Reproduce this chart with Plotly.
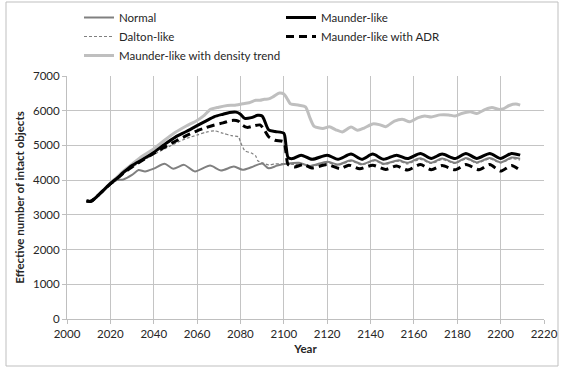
import plotly.graph_objects as go

# ---- data ----
normal_years = [2009, 2011, 2013, 2015, 2017, 2020, 2023, 2026, 2030, 2033, 2036, 2040, 2045, 2049, 2054, 2059, 2066,
                2071, 2077, 2081, 2085, 2090, 2093, 2097, 2102, 2107, 2112, 2120, 2125, 2131, 2136, 2142, 2146,
                2153, 2157, 2163, 2168, 2173, 2179, 2184, 2189, 2195, 2200, 2205, 2209]
normal_vals = [3400, 3390, 3480, 3600, 3720, 3880, 4000, 4020, 4150, 4290, 4250, 4330, 4470, 4330, 4440, 4250, 4420,
               4280, 4390, 4300, 4370, 4480, 4340, 4420, 4480, 4500, 4410, 4530, 4450, 4570, 4460, 4580, 4470,
               4570, 4500, 4630, 4500, 4620, 4500, 4640, 4510, 4640, 4510, 4650, 4620]

maunder_years = [2009, 2011, 2013, 2015, 2017, 2020, 2023, 2026, 2030, 2035, 2040, 2045, 2050, 2055, 2060, 2064,
                 2068, 2072, 2075, 2078, 2080, 2082, 2085, 2088, 2090, 2091, 2093, 2096, 2100, 2101, 2102, 2104,
                 2108, 2113, 2120, 2125, 2131, 2136, 2141, 2146, 2152, 2157, 2163, 2168, 2173, 2179, 2184, 2189,
                 2195, 2200, 2205, 2209]
maunder_vals = [3400, 3390, 3480, 3600, 3720, 3900, 4050, 4220, 4420, 4600, 4800, 5030, 5240, 5400, 5570, 5700,
                5830, 5900, 5950, 5960, 5900, 5780, 5800, 5870, 5850, 5730, 5450, 5400, 5350, 5000, 4650, 4620,
                4720, 4600, 4720, 4600, 4750, 4600, 4750, 4600, 4720, 4620, 4770, 4625, 4750, 4625, 4770, 4625,
                4770, 4625, 4770, 4720]

dalton_years = [2009, 2011, 2013, 2015, 2017, 2020, 2023, 2026, 2030, 2035, 2040, 2045, 2050, 2055, 2060, 2064,
                2068, 2072, 2076, 2079, 2080, 2082, 2085, 2087, 2088, 2091, 2093, 2096, 2099, 2102, 2105, 2108,
                2113, 2120, 2125, 2131, 2136, 2142, 2146, 2153, 2157, 2163, 2168, 2173, 2179, 2184, 2189, 2195,
                2200, 2205, 2209]
dalton_vals = [3400, 3390, 3480, 3600, 3720, 3890, 4040, 4190, 4370, 4560, 4740, 4900, 5060, 5200, 5300, 5380,
               5420, 5350, 5280, 5250, 5100, 4850, 4780, 4700, 4560, 4480, 4440, 4470, 4470, 4470, 4450, 4480,
               4400, 4510, 4430, 4550, 4440, 4560, 4450, 4550, 4470, 4600, 4480, 4590, 4480, 4610, 4490, 4610,
               4500, 4620, 4580]

adr_years = [2009, 2011, 2013, 2015, 2017, 2020, 2023, 2026, 2030, 2035, 2040, 2045, 2050, 2055, 2060, 2064,
             2068, 2072, 2076, 2079, 2081, 2083, 2086, 2089, 2091, 2093, 2096, 2100, 2101, 2102, 2105, 2109,
             2113, 2120, 2126, 2130, 2135, 2141, 2147, 2152, 2157, 2163, 2168, 2173, 2179, 2184, 2190, 2195,
             2200, 2205, 2209]
adr_vals = [3400, 3390, 3480, 3600, 3720, 3890, 4040, 4200, 4380, 4580, 4770, 4950, 5120, 5280, 5420, 5510,
            5590, 5650, 5720, 5700, 5580, 5520, 5560, 5590, 5450, 5250, 5150, 5100, 4800, 4450, 4380, 4450,
            4350, 4450, 4330, 4430, 4330, 4430, 4310, 4410, 4290, 4450, 4300, 4420, 4300, 4450, 4300, 4450,
            4260, 4420, 4280]

density_years = [2009, 2011, 2013, 2015, 2017, 2020, 2023, 2026, 2030, 2035, 2040, 2045, 2050, 2055, 2060, 2063,
                 2066, 2070, 2074, 2077, 2081, 2084, 2087, 2089, 2091, 2093, 2095, 2098, 2100, 2102, 2103, 2107,
                 2110, 2112, 2114, 2118, 2121, 2124, 2127, 2131, 2134, 2137, 2141, 2144, 2147, 2151, 2155, 2158,
                 2162, 2165, 2168, 2172, 2176, 2179, 2182, 2186, 2189, 2193, 2196, 2199, 2201, 2204, 2207, 2209]
density_vals = [3400, 3390, 3480, 3600, 3720, 3920, 4080, 4260, 4460, 4700, 4900, 5150, 5380, 5560, 5720, 5850,
                6030, 6100, 6150, 6160, 6200, 6230, 6300, 6300, 6330, 6340, 6400, 6510, 6480, 6300, 6200, 6160,
                6110, 5800, 5550, 5490, 5540, 5450, 5390, 5530, 5440, 5500, 5620, 5600, 5540, 5700, 5750, 5680,
                5800, 5850, 5820, 5880, 5880, 5850, 5920, 5970, 5920, 6040, 6090, 6040, 6050, 6150, 6190, 6160]

x_ticks = [2000, 2020, 2040, 2060, 2080, 2100, 2120, 2140, 2160, 2180, 2200, 2220]
y_ticks = [0, 1000, 2000, 3000, 4000, 5000, 6000, 7000]

FONT = "Lato"
W, H = 563, 371
ML, MR, MT, MB = 67, 19, 76, 52
PW, PH = W - ML - MR, H - MT - MB


def px_x(p):
    return (p - ML) / PW


def px_y(p):
    return (H - MB - p) / PH


fig = go.Figure()
line_shape = dict(shape="spline", smoothing=0.7)
fig.add_trace(go.Scatter(x=density_years, y=density_vals, mode="lines", name="Maunder-like with density trend",
                         legendrank=5, line=dict(color="#bfbfbf", width=3, **line_shape)))
fig.add_trace(go.Scatter(x=normal_years, y=normal_vals, mode="lines", name="Normal", legendrank=1,
                         line=dict(color="#808080", width=2, **line_shape)))
fig.add_trace(go.Scatter(x=dalton_years, y=dalton_vals, mode="lines", name="Dalton-like", legendrank=3,
                         line=dict(color="#808080", width=1.2, dash="3px,2px", **line_shape)))
fig.add_trace(go.Scatter(x=adr_years, y=adr_vals, mode="lines", name="Maunder-like with ADR", legendrank=4,
                         line=dict(color="#000000", width=3, dash="8px,5px", **line_shape)))
fig.add_trace(go.Scatter(x=maunder_years, y=maunder_vals, mode="lines", name="Maunder-like", legendrank=2,
                         line=dict(color="#000000", width=3, **line_shape)))

fig.update_layout(
    width=W, height=H,
    margin=dict(l=ML, r=MR, t=MT, b=MB, autoexpand=False),
    paper_bgcolor="white", plot_bgcolor="white",
    font=dict(family=FONT, size=11.5, color="#262626"),
    showlegend=True,
    legend=dict(orientation="h", x=px_x(79), y=px_y(3), xanchor="left", yanchor="top",
                entrywidth=157, entrywidthmode="pixels", traceorder="normal",
                font=dict(family=FONT, size=11.5, color="#262626"), bgcolor="rgba(0,0,0,0)",
                tracegroupgap=0),
    xaxis=dict(range=[2000, 2220], tickvals=x_ticks, ticktext=[str(v) for v in x_ticks],
               showgrid=True, gridcolor="#c4c4c4", gridwidth=1, zeroline=False,
               showline=True, linecolor="#bfbfbf", ticks="outside", ticklen=4, tickcolor="#bfbfbf",
               title=dict(text="<b>Year</b>", font=dict(family=FONT, size=11.5), standoff=6)),
    yaxis=dict(range=[0, 7000], tickvals=y_ticks, ticktext=[str(v) for v in y_ticks],
               showgrid=True, gridcolor="#c4c4c4", gridwidth=1, zeroline=False,
               showline=True, linecolor="#bfbfbf", ticks="outside", ticklen=4, tickcolor="#bfbfbf",
               title=dict(text="<b>Effective number of intact objects</b>", font=dict(family=FONT, size=11.5),
                          standoff=5)),
)

# outer frame of the chart
fig.add_shape(type="rect", xref="paper", yref="paper",
              x0=px_x(6), x1=px_x(558), y0=px_y(366), y1=px_y(2),
              line=dict(color="#bfbfbf", width=1), fillcolor="rgba(0,0,0,0)", layer="below")

fig.write_html("out.html")
